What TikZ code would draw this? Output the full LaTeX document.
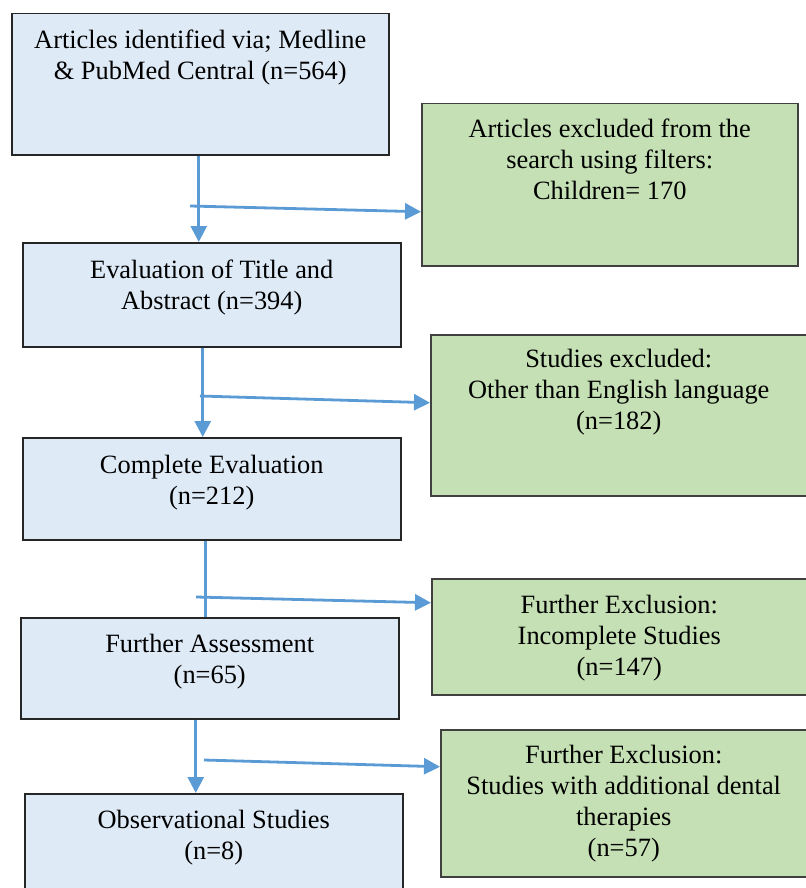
\documentclass[tikz,border=0pt]{standalone}
\usepackage{fontspec}
\setmainfont{Liberation Serif}
\usetikzlibrary{arrows.meta}
\usetikzlibrary{calc}
\definecolor{boxblue}{RGB}{222,234,246}
\definecolor{boxgreen}{RGB}{197,224,180}
\definecolor{flowblue}{RGB}{91,155,213}

\begin{document}
\begin{tikzpicture}[x=0.5pt, y=-0.5pt,
        stage/.style={draw=black!85, line width=0.75pt, fill=boxblue, anchor=north west, inner sep=0pt},
        excl/.style={draw=black!75, line width=0.75pt, fill=boxgreen, anchor=north west, inner sep=0pt},
        boxtext/.style={anchor=north, align=center, inner sep=0pt, font=\fontsize{13.2}{15.5}\selectfont},
        flowline/.style={draw=flowblue, line width=1.4pt},
        flow/.style={flowline, -{Triangle[length=8pt,width=8pt]}}]
        \useasboundingbox (0,0) rectangle (806,888);

        \node[stage, minimum width=188.5pt, minimum height=70.5pt] (A) at (11,13) {};
        \node[boxtext] (At) at ($(A.north)+(0,17)$) {Articles identified via; Medline\\ \& PubMed Central (n=564)};
        \node[excl, minimum width=188pt, minimum height=81pt] (E1) at (421,103) {};
        \node[boxtext] (E1t) at ($(E1.north)+(0,16)$) {Articles excluded from the\\ search using filters:\\ Children= 170};

        \node[stage, minimum width=189pt, minimum height=52pt] (B) at (22,242) {};
        \node[boxtext] (Bt) at ($(B.north)+(0,18)$) {Evaluation of Title and\\ Abstract (n=394)};
        \node[excl, minimum width=188pt, minimum height=80.5pt] (E2) at (430,334) {};
        \node[boxtext] (E2t) at ($(E2.north)+(0,15)$) {Studies excluded:\\ Other than English language\\ (n=182)};

        \node[stage, minimum width=189pt, minimum height=51pt] (C) at (22,437) {};
        \node[boxtext] (Ct) at ($(C.north)+(0,18)$) {Complete Evaluation\\ (n=212)};
        \node[excl, minimum width=187.5pt, minimum height=58pt] (E3) at (431,578) {};
        \node[boxtext] (E3t) at ($(E3.north)+(0,17)$) {Further Exclusion:\\ Incomplete Studies\\ (n=147)};

        \node[stage, minimum width=189pt, minimum height=50.5pt] (D) at (20,617) {};
        \node[boxtext] (Dt) at ($(D.north)+(0,17)$) {Further Assessment\\ (n=65)};
        \node[excl, minimum width=183pt, minimum height=73.5pt] (E4) at (440,729) {};
        \node[boxtext] (E4t) at ($(E4.north)+(0,16)$) {Further Exclusion:\\ Studies with additional dental\\ therapies\\ (n=57)};

        \node[stage, minimum width=189pt, minimum height=51pt] (E) at (24,793) {};
        \node[boxtext] (Et) at ($(E.north)+(0,17)$) {Observational Studies\\ (n=8)};

        % branch points of the exclusion arrows
        \coordinate (s1) at (190,206);
        \coordinate (s2) at (200,396);
        \coordinate (s3) at (196,597);
        \coordinate (s4) at (204,760);

        \draw[flow] ([xshift=-0.75pt]A.south) -- ([xshift=-0.75pt]A.south |- B.north);
        \draw[flow] (s1) -- ($(E1.west)+(0,27)$);
        \draw[flow] ([xshift=-4.5pt]B.south) -- ([xshift=-4.5pt]B.south |- C.north);
        \draw[flow] (s2) -- ($(E2.west)+(0,-12.5)$);
        \draw[flowline] ([xshift=-3pt]C.south) -- ([xshift=-3pt]C.south |- D.north);
        \draw[flow] (s3) -- ($(E3.west)+(0,-34)$);
        \draw[flow] ([xshift=-7pt]D.south) -- ([xshift=-7pt]D.south |- E.north);
        \draw[flow] (s4) -- ($(E4.west)+(0,-36.5)$);
    \end{tikzpicture}
\end{document}
